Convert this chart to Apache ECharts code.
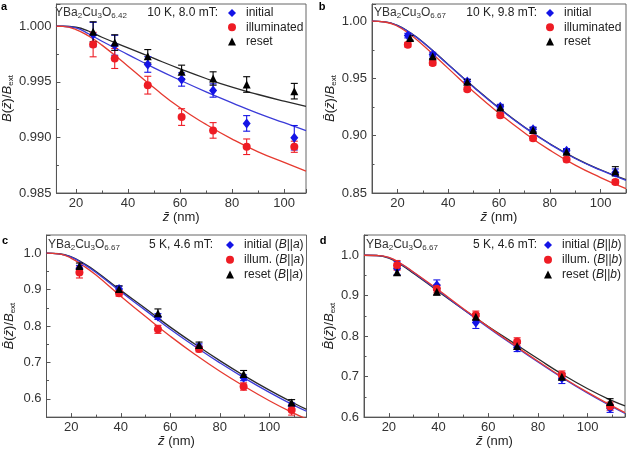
<!DOCTYPE html>
<html><head><meta charset="utf-8">
<script src="https://cdn.jsdelivr.net/npm/echarts@6/dist/echarts.min.js"></script>
<style>html,body{margin:0;padding:0;background:#fff}#c{width:627px;height:449px}</style>
</head><body><div id="c"></div>
<script>
// ---------- Panel a: YBa2Cu3O6.42, 10 K, 8.0 mT ----------
const aX = [26.6, 34.9, 47.6, 60.6, 72.7, 85.6, 103.9];
const aInitial = [0.99925, 0.99829, 0.99656, 0.99521, 0.99422, 0.99126, 0.98997];
const aInitialErr = [0.0011, 0.0009, 0.0007, 0.0006, 0.0006, 0.0007, 0.0011];
const aIllum = [0.99835, 0.9971, 0.9947, 0.99183, 0.99063, 0.98916, 0.98916];
const aIllumErr = [0.0011, 0.0009, 0.0008, 0.00075, 0.0007, 0.0007, 0.0005];
const aReset = [0.9995, 0.99853, 0.9973, 0.9959, 0.9953, 0.99476, 0.99416];
const aResetErr = [0.0009, 0.0007, 0.0006, 0.0006, 0.0006, 0.0007, 0.0007];
const aFitX = [12.5, 15, 20, 25, 30, 40, 50, 60, 70, 80, 90, 100, 108.4];
const aFitInitial = [1.0, 1.0, 0.99985, 0.9993, 0.99865, 0.99745, 0.99626, 0.99515, 0.9941, 0.99311, 0.99216, 0.99132, 0.99062];
const aFitIllum = [1.0, 0.99998, 0.9997, 0.9991, 0.9983, 0.99641, 0.99446, 0.99266, 0.99117, 0.98985, 0.9887, 0.98775, 0.98697];
const aFitReset = [1.0, 1.0, 0.99991, 0.99955, 0.99901, 0.99805, 0.9971, 0.99617, 0.9953, 0.99452, 0.99386, 0.99326, 0.9928];

// ---------- Panel b: YBa2Cu3O6.67, 10 K, 9.8 mT ----------
const bX = [24.1, 33.9, 47.5, 60.5, 73.4, 86.6, 105.8];
const bXReset = [25.0, 33.9, 47.5, 60.5, 73.4, 86.6, 105.8];
const bInitial = [0.9874, 0.9708, 0.9474, 0.9254, 0.9056, 0.8868, 0.868];
const bInitialErr = [0.002, 0.002, 0.002, 0.002, 0.002, 0.002, 0.003];
const bIllum = [0.9795, 0.9635, 0.9406, 0.9178, 0.8977, 0.8792, 0.8596];
const bIllumErr = [0.002, 0.002, 0.002, 0.002, 0.002, 0.002, 0.002];
const bReset = [0.9854, 0.9693, 0.9471, 0.9246, 0.905, 0.886, 0.869];
const bResetErr = [0.002, 0.002, 0.002, 0.002, 0.002, 0.002, 0.004];
const bFitX = [10, 15, 20, 25, 30, 40, 50, 60, 70, 80, 90, 100, 110];
const bFitInitial = [1.0, 0.9994, 0.9962, 0.9898, 0.9816, 0.962, 0.9424, 0.924, 0.9073, 0.8927, 0.8801, 0.8699, 0.8611];
const bFitIllum = [1.0, 0.9993, 0.9956, 0.9883, 0.9792, 0.9588, 0.9383, 0.9196, 0.9026, 0.8874, 0.8743, 0.8635, 0.8538];
const bFitReset = [1.0, 0.9994, 0.9963, 0.99, 0.9818, 0.9623, 0.9427, 0.9243, 0.9076, 0.893, 0.8805, 0.8703, 0.8616];

// ---------- Panel c: YBa2Cu3O6.67, 5 K, 4.6 mT, B||a ----------
const cX = [23.3, 39.3, 55.0, 71.6, 89.6, 109.0];
const cInitial = [0.9586, 0.902, 0.826, 0.743, 0.658, 0.581];
const cInitialErr = [0.008, 0.008, 0.008, 0.008, 0.008, 0.008];
const cIllum = [0.947, 0.89, 0.791, 0.737, 0.634, 0.5695];
const cIllumErr = [0.015, 0.008, 0.011, 0.008, 0.01, 0.014];
const cReset = [0.965, 0.902, 0.835, 0.748, 0.668, 0.59];
const cResetErr = [0.008, 0.008, 0.012, 0.008, 0.01, 0.008];
const cFitX = [10, 15, 20, 25, 30, 40, 50, 60, 70, 80, 90, 100, 110, 115];
const cFitInitial = [1.0, 0.9984, 0.989, 0.97, 0.947, 0.894, 0.843, 0.791, 0.744, 0.699, 0.657, 0.618, 0.582, 0.566];
const cFitIllum = [1.0, 0.998, 0.986, 0.965, 0.94, 0.882, 0.826, 0.772, 0.722, 0.676, 0.634, 0.595, 0.56, 0.545];
const cFitReset = [1.0, 0.9985, 0.99, 0.972, 0.95, 0.898, 0.848, 0.797, 0.75, 0.705, 0.663, 0.624, 0.588, 0.571];

// ---------- Panel d: YBa2Cu3O6.67, 5 K, 4.6 mT, B||b ----------
const dX = [23.3, 39.3, 55.0, 71.6, 89.6, 109.0];
const dInitial = [0.968, 0.926, 0.834, 0.772, 0.696, 0.6216];
const dInitialErr = [0.016, 0.013, 0.015, 0.01, 0.013, 0.01];
const dIllum = [0.975, 0.917, 0.852, 0.786, 0.704, 0.627];
const dIllumErr = [0.012, 0.01, 0.01, 0.01, 0.01, 0.01];
const dReset = [0.958, 0.91, 0.848, 0.776, 0.7, 0.6375];
const dResetErr = [0.008, 0.008, 0.008, 0.008, 0.008, 0.008];
const dFitX = [10, 15, 20, 25, 30, 40, 50, 60, 70, 80, 90, 100, 110, 115];
const dFitInitial = [1.0, 0.9993, 0.994, 0.978, 0.957, 0.912, 0.866, 0.821, 0.778, 0.736, 0.696, 0.659, 0.625, 0.609];
const dFitIllum = [1.0, 0.9994, 0.995, 0.979, 0.958, 0.914, 0.868, 0.823, 0.78, 0.738, 0.698, 0.661, 0.627, 0.611];
const dFitReset = [1.0, 0.9993, 0.993, 0.976, 0.955, 0.91, 0.866, 0.824, 0.784, 0.744, 0.705, 0.67, 0.64, 0.628];

// tick labels / texts
const panelLetters = ['a', 'b', 'c', 'd'];
const compounds = ['YBa{s|2}Cu{s|3}O{s|6.42}', 'YBa{s|2}Cu{s|3}O{s|6.67}', 'YBa{s|2}Cu{s|3}O{s|6.67}', 'YBa{s|2}Cu{s|3}O{s|6.67}'];
const conditions = ['10 K, 8.0 mT:', '10 K, 9.8 mT:', '5 K, 4.6 mT:', '5 K, 4.6 mT:'];
const legendNames = [
  ['initial', 'illuminated', 'reset'],
  ['initial', 'illuminated', 'reset'],
  ['initial (B||a)', 'illum. (B||a)', 'reset (B||a)'],
  ['initial (B||b)', 'illum. (B||b)', 'reset (B||b)']
];

const F = 'Liberation Sans, Arial, sans-serif';
const MARK = { blue: '#1414e6', red: '#ee1c24', black: '#000000' };
const FIT = { blue: '#3b3bd8', red: '#e63a30', black: '#2a2a2a' };
const SYM = { blue: 'diamond', red: 'circle', black: 'triangle' };
const SYMSIZE = { blue: [8, 10], red: 8, black: 8 };

const grids = [
  { left: 53, top: 4, width: 253, height: 189 },
  { left: 372, top: 4, width: 254, height: 189 },
  { left: 46.5, top: 235, width: 260, height: 189 },
  { left: 364, top: 235, width: 261, height: 189 }
];
const xRanges = [[12.5, 108.4], [10, 110], [10, 115], [10, 115]];
const yRanges = [[0.985, 1.002, 0.005, 3], [0.85, 1.015, 0.05, 2], [0.55, 1.05, null, 1], [0.6, 1.05, null, 1]];
const yNameGap = [32, 26, 30, 24];
const xNameGap = [11, 11, 13, 13];
const showYMin = [true, true, false, true];

const panelData = [
  { x: [aX, aX, aX], y: [aInitial, aIllum, aReset], e: [aInitialErr, aIllumErr, aResetErr], fx: aFitX, f: [aFitInitial, aFitIllum, aFitReset] },
  { x: [bX, bX, bXReset], y: [bInitial, bIllum, bReset], e: [bInitialErr, bIllumErr, bResetErr], fx: bFitX, f: [bFitInitial, bFitIllum, bFitReset] },
  { x: [cX, cX, cX], y: [cInitial, cIllum, cReset], e: [cInitialErr, cIllumErr, cResetErr], fx: cFitX, f: [cFitInitial, cFitIllum, cFitReset] },
  { x: [dX, dX, dX], y: [dInitial, dIllum, dReset], e: [dInitialErr, dIllumErr, dResetErr], fx: dFitX, f: [dFitInitial, dFitIllum, dFitReset] }
];
const keys = ['blue', 'red', 'black'];

const axisCommon = {
  axisLine: { lineStyle: { color: '#555', width: 1 } },
  axisTick: { inside: true, length: 4, lineStyle: { color: '#555' } },
  minorTick: { show: true, splitNumber: 2, length: 2.5, lineStyle: { color: '#555' } },
  splitLine: { show: false },
};
const richIt = {
  i: { fontStyle: 'italic', fontSize: 13, fontFamily: F, color: '#222' },
  sub: { fontSize: 8, fontFamily: F, color: '#222', padding: [7, 0, 0, 0] }
};

const xAxes = [], yAxes = [], series = [], legends = [], graphics = [];
for (let p = 0; p < 4; p++) {
  xAxes.push(Object.assign({}, axisCommon, {
    type: 'value', gridIndex: p, min: xRanges[p][0], max: xRanges[p][1],
    axisLabel: { fontSize: 13, fontFamily: F, color: '#333', margin: 4, showMinLabel: false, showMaxLabel: false },
    name: '{i|z\u0304} (nm)', nameLocation: 'middle', nameGap: xNameGap[p],
    nameTextStyle: { fontSize: 13, fontFamily: F, color: '#222', verticalAlign: 'top', rich: richIt }
  }));
  const yr = yRanges[p];
  const ya = Object.assign({}, axisCommon, {
    type: 'value', gridIndex: p, min: yr[0], max: yr[1],
    axisLabel: { fontSize: 13, fontFamily: F, color: '#333', margin: 5, showMinLabel: showYMin[p], showMaxLabel: false,
      formatter: (v) => v.toFixed(yr[3]) },
    name: (p === 0 ? '{i|B}' : '{i|B\u0304}') + '({i|z\u0304})/{i|B}{sub|ext}',
    nameLocation: 'middle', nameGap: yNameGap[p], nameRotate: 90,
    nameTextStyle: { fontSize: 13, fontFamily: F, color: '#222', rich: richIt }
  });
  if (yr[2]) ya.interval = yr[2];
  yAxes.push(ya);

  const pd = panelData[p];
  [2, 0, 1].forEach((k) => {
    series.push({
      type: 'line', name: 'fit-' + p + '-' + k, xAxisIndex: p, yAxisIndex: p, silent: true,
      data: pd.fx.map((x, i) => [x, pd.f[k][i]]), showSymbol: false, smooth: 0.5,
      lineStyle: { color: FIT[keys[k]], width: 1.3 }, z: 2
    });
  });
  [0, 1, 2].forEach((k) => {
    const col = MARK[keys[k]];
    series.push({
      type: 'custom', name: 'err-' + p + '-' + k, xAxisIndex: p, yAxisIndex: p, silent: true, z: 3,
      data: pd.x[k].map((x, i) => [x, pd.y[k][i] - pd.e[k][i], pd.y[k][i] + pd.e[k][i]]),
      renderItem: (params, api) => {
        const t = api.coord([api.value(0), api.value(2)]);
        const b = api.coord([api.value(0), api.value(1)]);
        const w = 3.5, st = { stroke: col, lineWidth: 1.1 };
        return { type: 'group', children: [
          { type: 'line', shape: { x1: t[0], y1: t[1], x2: b[0], y2: b[1] }, style: st },
          { type: 'line', shape: { x1: t[0] - w, y1: t[1], x2: t[0] + w, y2: t[1] }, style: st },
          { type: 'line', shape: { x1: b[0] - w, y1: b[1], x2: b[0] + w, y2: b[1] }, style: st }
        ] };
      }
    });
  });
  [0, 1, 2].forEach((k) => {
    series.push({
      type: 'scatter', name: legendNames[p][k], xAxisIndex: p, yAxisIndex: p, z: 4,
      data: pd.x[k].map((x, i) => [x, pd.y[k][i]]),
      symbol: SYM[keys[k]], symbolSize: SYMSIZE[keys[k]],
      itemStyle: { color: MARK[keys[k]], opacity: 1 }
    });
  });
}

const legendPos = [[228, 6, 14.3], [546, 6, 14.3], [226, 238, 14.7], [544, 238, 14.7]];
for (let p = 0; p < 4; p++) {
  legends.push({
    left: legendPos[p][0], top: legendPos[p][1], orient: 'vertical', padding: 0,
    itemWidth: 8, itemHeight: 8, itemGap: legendPos[p][2] - 14, selectedMode: false, symbolKeepAspect: true,
    data: legendNames[p].map((n, k) => ({ name: n, icon: SYM[keys[k]] })),
    formatter: (n) => n.replace(/\(B\|\|(a|b)\)/, '({i|B}||{i|$1})'),
    textStyle: { fontSize: 12, lineHeight: 14, fontFamily: F, color: '#222', padding: [0, 0, 0, 5],
      rich: { i: { fontStyle: 'italic', fontSize: 12, fontFamily: F, color: '#222' } } }
  });
}

const letterPos = [[4, 7], [322, 7], [5, 241], [323, 241]];
const compoundPos = [[55, 13], [374, 13], [48, 245], [366, 245]];
const condPos = [[218, 13], [537, 13], [213, 245], [537, 245]];
for (let p = 0; p < 4; p++) {
  graphics.push({ type: 'text', x: letterPos[p][0], y: letterPos[p][1], style: {
    text: panelLetters[p], fontSize: 11, fontWeight: 'bold', fontFamily: F, fill: '#000', align: 'center', verticalAlign: 'middle' } });
  graphics.push({ type: 'text', x: compoundPos[p][0], y: compoundPos[p][1], style: {
    text: compounds[p], fontSize: 12, fontFamily: F, fill: '#333', align: 'left', verticalAlign: 'middle',
    rich: { s: { fontSize: 8, fontFamily: F, fill: '#333', padding: [6, 0, 0, 0] } } } });
  graphics.push({ type: 'text', x: condPos[p][0], y: condPos[p][1], style: {
    text: conditions[p], fontSize: 12, fontFamily: F, fill: '#222', align: 'right', verticalAlign: 'middle' } });
}

const chart = echarts.init(document.getElementById('c'), null, { renderer: 'canvas' });
chart.setOption({
  animation: false,
  backgroundColor: '#fff',
  grid: grids.map((g) => Object.assign({ show: true, borderColor: '#666', borderWidth: 1, backgroundColor: 'transparent' }, g)),
  xAxis: xAxes,
  yAxis: yAxes,
  legend: legends,
  graphic: graphics,
  series: series
});
</script></body></html>
